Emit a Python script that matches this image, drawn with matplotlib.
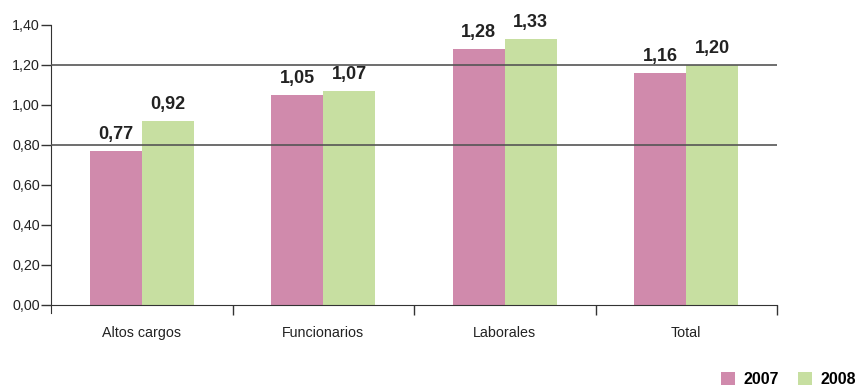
import numpy as np
import matplotlib.pyplot as plt

plt.rcParams['font.family'] = ['Liberation Sans', 'DejaVu Sans']

categories = ['Altos cargos', 'Funcionarios', 'Laborales', 'Total']
years = ['2007', '2008']
v2007 = [0.77, 1.05, 1.28, 1.16]
v2008 = [0.92, 1.07, 1.33, 1.20]
yticks = [0.0, 0.2, 0.4, 0.6, 0.8, 1.0, 1.2, 1.4]
ref_lines = [0.8, 1.2]

pink = '#D08AAC'
green = '#C7DFA1'
dark = '#333333'


def fmt(v):
    return ('%.2f' % v).replace('.', ',')


fig = plt.figure(figsize=(8.59, 3.9), dpi=100)
ax = fig.add_axes([51 / 859, 77 / 390, (777 - 51) / 859, (313 - 25) / 390])

x = np.arange(len(categories))
w = 0.287
b1 = ax.bar(x - w / 2, v2007, w, color=pink, zorder=2, label=years[0])
b2 = ax.bar(x + w / 2, v2008, w, color=green, zorder=2, label=years[1])

# value labels above the bars
for bars, vals in ((b1, v2007), (b2, v2008)):
    for r, v in zip(bars, vals):
        ax.annotate(fmt(v), (r.get_x() + r.get_width() / 2, v),
                    xytext=(0, 6), textcoords='offset points', ha='center', va='bottom',
                    fontsize=13, fontweight='bold', color='#222222')

# the two reference lines are drawn over the bars
for y in ref_lines:
    ax.axhline(y, color='#555555', lw=1.2, zorder=3)

ax.set_xlim(-0.5, len(categories) - 0.5)
ax.set_ylim(-0.04, 1.4)

for s in ('top', 'right'):
    ax.spines[s].set_visible(False)
ax.spines['bottom'].set_position(('data', 0))
ax.spines['left'].set_color(dark)
ax.spines['bottom'].set_color(dark)

ax.set_yticks(yticks)
ax.set_yticklabels([fmt(t) for t in yticks], fontsize=10.3, color='#222222')
ax.tick_params(axis='y', length=7, width=1, color=dark, pad=1)

# tick marks between groups, labels at the group centres
ax.set_xticks(x + 0.5)
ax.set_xticklabels([])
ax.set_xticks(x, minor=True)
ax.set_xticklabels(categories, minor=True, fontsize=10.3, color='#222222')
ax.tick_params(axis='x', which='major', length=7, width=1, color=dark, direction='out')
ax.tick_params(axis='x', which='minor', length=0, pad=15)

fig.legend(handles=[b1, b2], loc='lower right', bbox_to_anchor=(1.0, 0.0), ncol=2,
           frameon=False, prop={'weight': 'bold', 'size': 11.5},
           handlelength=0.9, handleheight=0.9, handletextpad=0.5, columnspacing=1.2,
           borderaxespad=0.1, borderpad=0.1)

fig.savefig('out.png', dpi=100)
